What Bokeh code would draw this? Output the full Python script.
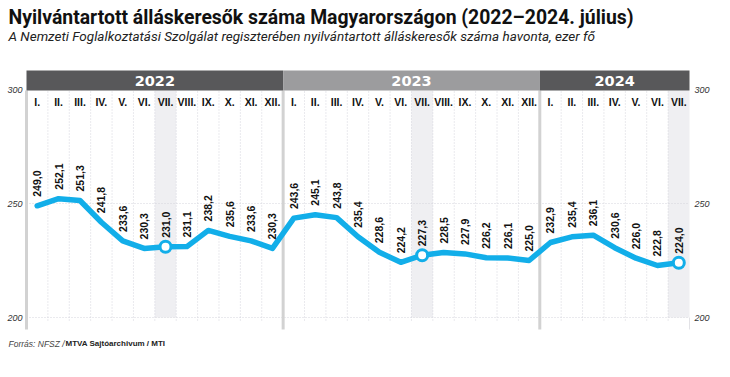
import math
from bokeh.plotting import figure
from bokeh.models import ColumnDataSource, Range1d, Label
from bokeh.core.properties import value
from bokeh.embed import file_html
from bokeh.resources import INLINE

# ---- data ----
years = ["2022", "2023", "2024"]
months_per_year = [12, 12, 7]
month_names = ["I.", "II.", "III.", "IV.", "V.", "VI.", "VII.", "VIII.", "IX.", "X.", "XI.", "XII."]
values_2022 = [249.0, 252.1, 251.3, 241.8, 233.6, 230.3, 231.0, 231.1, 238.2, 235.6, 233.6, 230.3]
values_2023 = [243.6, 245.1, 243.8, 235.4, 228.6, 224.2, 227.3, 228.5, 227.9, 226.2, 226.1, 225.0]
values_2024 = [232.9, 235.4, 236.1, 230.6, 226.0, 222.8, 224.0]
highlight_month = "VII."
y_ticks = [200, 250, 300]
y_tick_labels = ["200", "250", "300"]

title_text = "Nyilvántartott álláskeresők száma Magyarországon (2022–2024. július)"
subtitle_text = "A Nemzeti Foglalkoztatási Szolgálat regiszterében nyilvántartott álláskeresők száma havonta, ezer fő"
source_italic = "Forrás: NFSZ / "
source_bold = "MTVA Sajtóarchivum / MTI"

# ---- derived ----
vals = values_2022 + values_2023 + values_2024
n = len(vals)
xs = list(range(n))
mlabels = []
for cnt in months_per_year:
    mlabels += month_names[:cnt]
val_text = [f"{v:.1f}".replace(".", ",") for v in vals]
hi_idx = [i for i, m in enumerate(mlabels) if m == highlight_month]

W, H = 730, 377
PX = 663 / n          # px per month
PY = 2.28             # px per unit
X0 = -0.5 - 26 / PX
X1 = X0 + W / PX
Y1 = 300 + 89 / PY
Y0 = Y1 - H / PY
YBAND_TOP = 300 + 19 / PY
YTOP = 300 - 1 / PY
YLOW = 300 - 240 / PY

FONT = "Liberation Sans"
BLUE = "#12aee9"

p = figure(width=W, height=H, output_backend="svg", toolbar_location=None,
           x_range=Range1d(X0, X1), y_range=Range1d(Y0, Y1),
           min_border=0, x_axis_type=None, y_axis_type=None)
p.outline_line_color = None
p.xgrid.visible = False
p.ygrid.visible = False
p.background_fill_color = "white"
p.border_fill_color = "white"

# highlighted columns
p.quad(left=[i - 0.5 for i in hi_idx], right=[i + 0.5 for i in hi_idx],
       bottom=200, top=YTOP, fill_color="#efeff2", line_color=None)

# vertical dotted gridlines between months
bounds = [i + 0.5 for i in range(n - 1)]
p.segment(x0=bounds, x1=bounds, y0=200 - 3 / PY, y1=YTOP, line_color="#d4d4dc",
          line_width=1, line_dash="1 2")
# horizontal dotted gridlines
p.segment(x0=-0.5, x1=n - 0.5, y0=[200, 250], y1=[200, 250], line_color="#d4d4dc",
          line_width=1, line_dash="1 2")

# year separators and left edge line
starts = [0]
for cnt in months_per_year[:-1]:
    starts.append(starts[-1] + cnt)
sep_x = [s - 0.5 for s in starts]
p.segment(x0=sep_x, x1=sep_x, y0=YLOW, y1=YTOP, line_color="#d2d2d2", line_width=3)
p.segment(x0=[n - 0.5], x1=[n - 0.5], y0=YLOW, y1=200, line_color="#e2e2e6", line_width=1)

# year bands
band_colors = ["#58585a", "#9c9c9e", "#58585a"]
lefts = [s - 0.5 for s in starts]
rights = [s - 0.5 + c for s, c in zip(starts, months_per_year)]
p.quad(left=lefts, right=rights, bottom=YTOP, top=YBAND_TOP, fill_color=band_colors, line_color=None)
p.text(x=[(l + r) / 2 for l, r in zip(lefts, rights)], y=[300 + 9 / PY] * 3, text=years,
       text_color="white", text_font=value("DejaVu Sans"), text_font_style="bold",
       text_font_size="14.5px", text_align="center", text_baseline="middle")

# month labels
p.text(x=xs, y=[300 - 12 / PY] * n, text=mlabels, text_font=value(FONT), text_font_style="bold",
       text_font_size="10.5px", text_align="center", text_baseline="middle", text_color="#111111")

# line + markers
src = ColumnDataSource(dict(x=xs, y=vals, t=val_text))
p.line("x", "y", source=src, line_color=BLUE, line_width=5.5, line_join="round", line_cap="round")
p.scatter(x=hi_idx, y=[vals[i] for i in hi_idx], size=11, fill_color="white",
          line_color=BLUE, line_width=3)

# value labels
p.text("x", "y", text="t", source=src, angle=math.pi / 2, y_offset=-9,
       text_align="left", text_baseline="middle", text_font=value(FONT),
       text_font_style="bold", text_font_size="10.5px", text_color="#111111")

# y tick labels, both sides
for xpos, xoff, align in ((-0.5, -4, "right"), (n - 0.5, 5, "left")):
    p.text(x=[xpos] * len(y_ticks), y=y_ticks, text=y_tick_labels, x_offset=xoff,
           text_align=align, text_baseline="middle", text_font=value(FONT),
           text_font_style="italic", text_font_size="9px", text_color="#333333")

# titles / source
p.add_layout(Label(x=8, y=H - 5, x_units="screen", y_units="screen", text=title_text,
                   text_font="Roboto", text_font_style="bold", text_font_size="19.4px",
                   text_color="#111111", text_baseline="top", text_align="left"))
p.add_layout(Label(x=8, y=H - 27, x_units="screen", y_units="screen", text=subtitle_text,
                   text_font="Roboto", text_font_style="italic", text_font_size="13.5px",
                   text_color="#222222", text_baseline="top", text_align="left"))
p.add_layout(Label(x=8, y=H - 343, x_units="screen", y_units="screen", text=source_italic,
                   text_font=FONT, text_font_style="italic", text_font_size="8.5px",
                   text_color="#444444", text_baseline="middle", text_align="left"))
p.add_layout(Label(x=65, y=H - 343, x_units="screen", y_units="screen", text=source_bold,
                   text_font=FONT, text_font_style="bold", text_font_size="8px",
                   text_color="#222222", text_baseline="middle", text_align="left"))

open("out.html", "w").write(file_html(p, INLINE))
